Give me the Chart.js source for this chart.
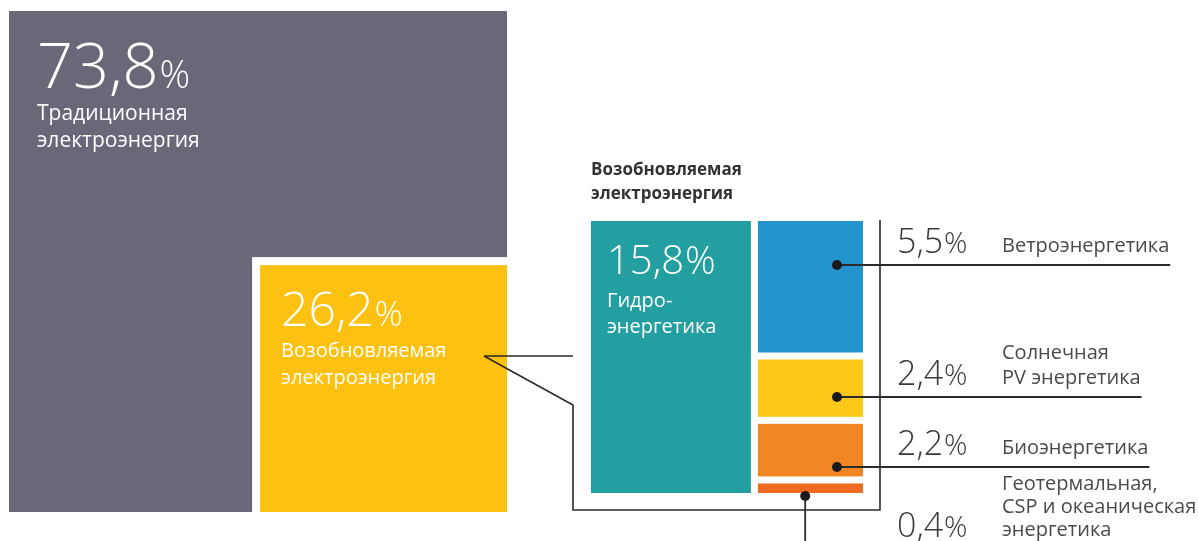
<!DOCTYPE html>
<html>
<head>
<meta charset="utf-8">
<script src="https://cdn.jsdelivr.net/npm/chart.js@4.4.1/dist/chart.umd.min.js"></script>
<style>
    html, body { margin: 0; background: #fff; }
    #wrap { width: 1198px; height: 541px; }
</style>
</head>
<body>
<div id="wrap"><canvas id="tree" width="1198" height="541"></canvas></div>
<script>
// ── data ──
const SHARE_LABELS = [['Традиционная', 'электроэнергия'], ['Возобновляемая', 'электроэнергия']];
const SHARE_VALUES = [73.8, 26.2];
const RENEW_TITLE = ['Возобновляемая', 'электроэнергия'];
const RENEW_LABELS = [
    ['Гидро-', 'энергетика'],
    ['Ветроэнергетика'],
    ['Солнечная', 'PV энергетика'],
    ['Биоэнергетика'],
    ['Геотермальная,', 'CSP и океаническая', 'энергетика'],
];
const RENEW_VALUES = [15.8, 5.5, 2.4, 2.2, 0.4];

// ── style ──
const SHARE_COLORS = ['#6a6878', '#fdc112'];
const RENEW_COLORS = ['#249fa1', '#2293cc', '#fec91b', '#f08724', '#ef6c22'];
const INK = '#2b2b2b';
const TEXT = '#4a4a4a';
const FONT = '"Open Sans", "Noto Sans", sans-serif';

// ── layout (scale units, 1 unit = 1 px) ──
const MAIN = { x: 9, y: 11, w: 498, h: 501 };
const INSET = 8;
const BOX = { x: 591, y: 221, w: 272, h: 272 };
const CELL_GAP = 7;
const LEADER_Y = [265, 397, 467];
const NUM_X = 897;
const LABEL_X = 1002;

const fmt = v => v.toLocaleString('ru-RU', { minimumFractionDigits: 1, maximumFractionDigits: 1 });
const sum = a => a.reduce((s, v) => s + v, 0);

function buildLayout() {
    const total = sum(SHARE_VALUES);
    const side = MAIN.w * Math.sqrt(SHARE_VALUES[1] / total);
    const outer = { x: MAIN.x + MAIN.w - side, y: MAIN.y + MAIN.h - side, w: side, h: side };
    const renew = { x: outer.x + INSET, y: outer.y + INSET, w: side - INSET, h: side - INSET };

    const rTotal = sum(RENEW_VALUES);
    const split = BOX.w * RENEW_VALUES[0] / rTotal;
    const cells = [{ x: BOX.x, y: BOX.y, w: split - CELL_GAP / 2, h: BOX.h }];
    const colX = BOX.x + split + CELL_GAP / 2;
    const colW = BOX.w - split - CELL_GAP / 2;
    const rest = RENEW_VALUES.slice(1);
    const avail = BOX.h - CELL_GAP * (rest.length - 1);
    let y = BOX.y;
    rest.forEach(v => {
        const h = avail * v / sum(rest);
        cells.push({ x: colX, y, w: colW, h });
        y += h + CELL_GAP;
    });
    return { outer, renew, cells, colX, colW };
}

const L = buildLayout();

// dots sit inside the small cells, leaders go right from them
const dots = LEADER_Y.map(y => ({ x: L.colX + L.colW - 26, y }));
const last = L.cells[L.cells.length - 1];
dots.push({ x: L.colX + L.colW * 0.45, y: last.y + last.h + 3 });

function drawPct(ctx, text, x, y, size, pctScale, color, weight) {
    ctx.fillStyle = color;
    ctx.font = `${weight} ${size}px ${FONT}`;
    ctx.fillText(text, x, y);
    const w = ctx.measureText(text).width;
    ctx.font = `${weight} ${Math.round(size * pctScale)}px ${FONT}`;
    ctx.fillText('%', x + w + 1, y);
}

function drawLines(ctx, lines, x, y, size, gap, color, weight) {
    ctx.fillStyle = color;
    ctx.font = `${weight} ${size}px ${FONT}`;
    lines.forEach((t, i) => ctx.fillText(t, x, y + i * gap));
}

const treePlugin = {
    id: 'tree',
    beforeDatasetsDraw(chart) {
        const { ctx } = chart;
        const X = v => chart.scales.x.getPixelForValue(v);
        const Y = v => chart.scales.y.getPixelForValue(v);
        const rect = (r, color) => {
            ctx.fillStyle = color;
            ctx.fillRect(X(r.x), Y(r.y), X(r.x + r.w) - X(r.x), Y(r.y + r.h) - Y(r.y));
        };
        ctx.save();
        rect(MAIN, SHARE_COLORS[0]);
        rect(L.outer, '#ffffff');
        rect(L.renew, SHARE_COLORS[1]);
        L.cells.forEach((c, i) => rect(c, RENEW_COLORS[i]));

        // zoom callout frame
        const fl = BOX.x - 18, fr = BOX.x + BOX.w + 17, fb = BOX.y + BOX.h + 17;
        const cx = 484, cy = 356;
        ctx.strokeStyle = INK;
        ctx.lineWidth = 1.6;
        ctx.beginPath();
        ctx.moveTo(X(cx), Y(cy)); ctx.lineTo(X(fl), Y(cy));
        ctx.moveTo(X(cx), Y(cy)); ctx.lineTo(X(fl), Y(cy + 49));
        ctx.lineTo(X(fl), Y(fb)); ctx.lineTo(X(fr), Y(fb)); ctx.lineTo(X(fr), Y(BOX.y - 1));
        ctx.stroke();

        // leaders
        ctx.lineWidth = 1.8;
        LEADER_Y.forEach((ly, i) => {
            ctx.font = `400 20px ${FONT}`;
            const tw = Math.max(...RENEW_LABELS[i + 1].map(t => ctx.measureText(t).width));
            ctx.beginPath();
            ctx.moveTo(X(dots[i].x), Y(ly));
            ctx.lineTo(X(LABEL_X + tw + 1), Y(ly));
            ctx.stroke();
        });
        const d = dots[3];
        ctx.beginPath();
        ctx.moveTo(X(d.x), Y(d.y));
        ctx.lineTo(X(d.x), Y(541));
        ctx.stroke();
        ctx.restore();
    },
    afterDatasetsDraw(chart) {
        const { ctx } = chart;
        const X = v => chart.scales.x.getPixelForValue(v);
        const Y = v => chart.scales.y.getPixelForValue(v);
        ctx.save();
        ctx.textBaseline = 'alphabetic';

        // main squares
        drawPct(ctx, fmt(SHARE_VALUES[0]), X(MAIN.x + 28), Y(MAIN.y + 77), 63, 0.6, '#ffffff', 300);
        drawLines(ctx, SHARE_LABELS[0], X(MAIN.x + 28), Y(MAIN.y + 109), 21, 27, '#ffffff', 400);
        drawPct(ctx, fmt(SHARE_VALUES[1]), X(L.renew.x + 21), Y(L.renew.y + 61), 48, 0.72, '#ffffff', 300);
        drawLines(ctx, SHARE_LABELS[1], X(L.renew.x + 21), Y(L.renew.y + 92), 20, 27, '#ffffff', 400);

        // zoomed box
        drawLines(ctx, RENEW_TITLE, X(BOX.x), Y(BOX.y - 46), 17, 24, '#333333', 700);
        drawPct(ctx, fmt(RENEW_VALUES[0]), X(BOX.x + 16), Y(BOX.y + 53), 40, 0.95, '#ffffff', 300);
        drawLines(ctx, RENEW_LABELS[0], X(BOX.x + 16), Y(BOX.y + 86), 20, 26, '#ffffff', 400);

        // side labels
        LEADER_Y.forEach((ly, i) => {
            drawPct(ctx, fmt(RENEW_VALUES[i + 1]), X(NUM_X), Y(ly - 12), 34, 0.85, '#3a3a3a', 300);
            const lines = RENEW_LABELS[i + 1];
            drawLines(ctx, lines, X(LABEL_X), Y(ly - 13 - (lines.length - 1) * 25), 20, 25, TEXT, 400);
        });
        const ly = LEADER_Y[2];
        drawPct(ctx, fmt(RENEW_VALUES[4]), X(NUM_X), Y(537), 34, 0.85, '#3a3a3a', 300);
        drawLines(ctx, RENEW_LABELS[4], X(LABEL_X), Y(ly + 23), 20, 23, TEXT, 400);
        ctx.restore();
    }
};

new Chart(document.getElementById('tree'), {
    type: 'scatter',
    data: {
        datasets: [{
            data: dots,
            pointRadius: 5,
            pointHoverRadius: 5,
            backgroundColor: '#1a1a1a',
            borderWidth: 0,
        }]
    },
    options: {
        responsive: false,
        animation: false,
        events: [],
        layout: { padding: 0, autoPadding: false },
        plugins: {
            legend: { display: false },
            tooltip: { enabled: false }
        },
        scales: {
            x: { type: 'linear', min: 0, max: 1198, display: false },
            y: { type: 'linear', min: 0, max: 541, reverse: true, display: false },
        },
    },
    plugins: [treePlugin],
});
</script>
</body>
</html>
